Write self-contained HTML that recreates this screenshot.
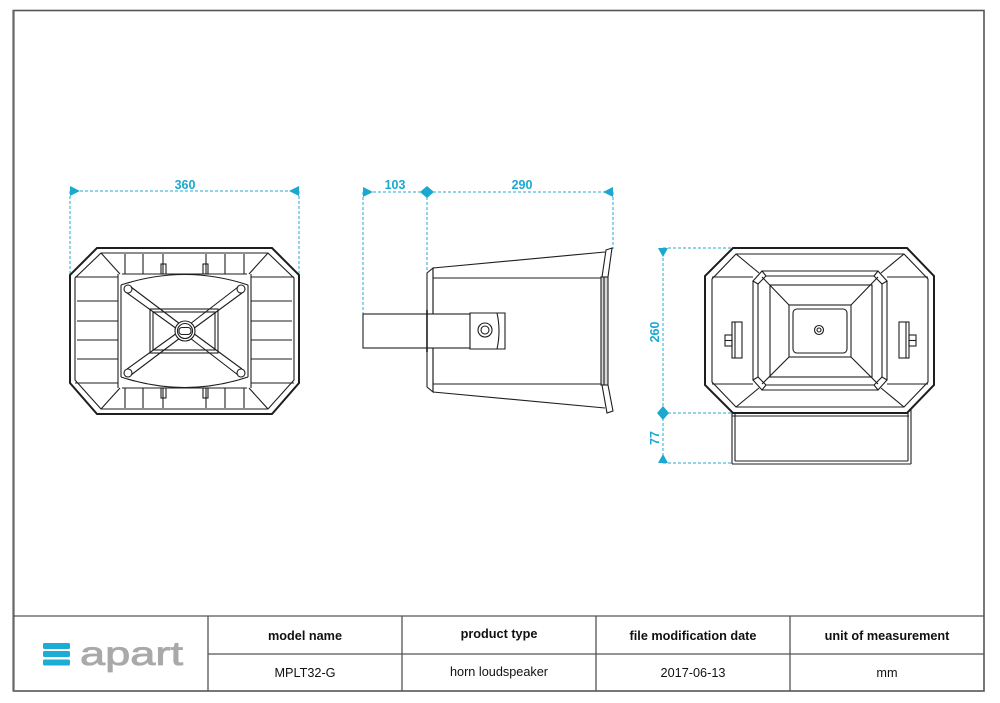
<!DOCTYPE html>
<html><head><meta charset="utf-8"><style>
html,body{margin:0;padding:0;background:#fff;}
body{width:1000px;height:703px;overflow:hidden;position:relative;font-family:"Liberation Sans",Arial,sans-serif;}
svg{position:absolute;left:0;top:0;}
</style></head><body>
<svg width="1000" height="703" viewBox="0 0 1000 703" xmlns="http://www.w3.org/2000/svg">
<!-- frame -->
<rect x="13.5" y="10.5" width="970.5" height="680.5" fill="none" stroke="#555" stroke-width="1.6"/>
<line x1="13.5" y1="10" x2="13.5" y2="691" stroke="#666" stroke-width="2.2"/>
<line x1="13" y1="616" x2="984" y2="616" stroke="#555" stroke-width="1.3"/>
<line x1="208" y1="654" x2="984" y2="654" stroke="#555" stroke-width="1.3"/>
<g stroke="#555" stroke-width="1.3">
<line x1="208" y1="616" x2="208" y2="691"/>
<line x1="402" y1="616" x2="402" y2="691"/>
<line x1="596" y1="616" x2="596" y2="691"/>
<line x1="790" y1="616" x2="790" y2="691"/>
</g>
<!-- table text -->
<g font-family="Liberation Sans, Arial, sans-serif" font-size="12.7" fill="#111" text-anchor="middle">
<text x="305" y="640" font-weight="bold">model name</text>
<text x="499" y="638" font-weight="bold">product type</text>
<text x="693" y="640" font-weight="bold">file modification date</text>
<text x="887" y="640" font-weight="bold">unit of measurement</text>
<text x="305" y="677">MPLT32-G</text>
<text x="499" y="676">horn loudspeaker</text>
<text x="693" y="677">2017-06-13</text>
<text x="887" y="677">mm</text>
</g>
<!-- logo -->
<g fill="#1badd6">
<rect x="43" y="643" width="27" height="6" rx="1.5"/>
<rect x="43" y="651" width="27" height="6" rx="1.5"/>
<rect x="43" y="659.5" width="27" height="6" rx="1.5"/>
</g>
<text x="80" y="665" font-family="Liberation Sans, Arial, sans-serif" font-size="33" fill="#a9a9a9" stroke="#a9a9a9" stroke-width="0.8" textLength="103" lengthAdjust="spacingAndGlyphs">apart</text>

<!-- ================= DIMENSIONS (cyan) ================= -->
<g stroke="#2aaad0" stroke-width="1" stroke-dasharray="3,2" fill="none">
<!-- front -->
<line x1="70" y1="191" x2="299" y2="191"/>
<line x1="70" y1="191" x2="70" y2="275"/>
<line x1="299" y1="191" x2="299" y2="275"/>
<!-- side -->
<line x1="363" y1="192" x2="613" y2="192"/>
<line x1="363" y1="192" x2="363" y2="314"/>
<line x1="427" y1="192" x2="427" y2="272"/>
<line x1="613" y1="192" x2="613" y2="249"/>
<!-- rear -->
<line x1="663" y1="248" x2="663" y2="463"/>
<line x1="663" y1="248" x2="733" y2="248"/>
<line x1="663" y1="413" x2="733" y2="413"/>
<line x1="663" y1="463" x2="731" y2="463"/>
</g>
<g fill="#1aa8d0">
<polygon points="70,186 70,196 80,191"/>
<polygon points="299,186 299,196 289,191"/>
<polygon points="363,187 363,197 373,192"/>
<polygon points="613,187 613,197 603,192"/>
<polygon points="420,192 427,186 434,192 427,198"/>
<polygon points="658,248 668,248 663,257"/>
<polygon points="663,406 669,413 663,420 657,413"/>
<polygon points="658,463 668,463 663,454"/>
</g>
<g font-family="Liberation Sans, Arial, sans-serif" font-size="12.5" font-weight="bold" fill="#1aa8d0" text-anchor="middle">
<text x="185" y="189">360</text>
<text x="395" y="189">103</text>
<text x="522" y="189">290</text>
<text transform="translate(659,332) rotate(-90)">260</text>
<text transform="translate(659,438) rotate(-90)">77</text>
</g>

<!-- ================= FRONT VIEW ================= -->
<g stroke="#1e1e1e" fill="none" stroke-width="1.1">
<polygon points="97,248 272,248 299,275 299,383 272,414 97,414 70,383 70,275" stroke-width="2"/>
<polygon points="101,253 268,253 294,278 294,380 268,409 101,409 75,380 75,278"/>
<!-- corner diagonals -->
<line x1="101" y1="253" x2="120" y2="274"/>
<line x1="268" y1="253" x2="249" y2="274"/>
<line x1="101" y1="409" x2="120" y2="388"/>
<line x1="268" y1="409" x2="249" y2="388"/>
<!-- panel boundaries -->
<line x1="75" y1="277" x2="118" y2="277"/>
<line x1="75" y1="383" x2="118" y2="383"/>
<line x1="251" y1="277" x2="294" y2="277"/>
<line x1="251" y1="383" x2="294" y2="383"/>
<line x1="118" y1="274" x2="118" y2="388"/>
<line x1="251" y1="274" x2="251" y2="388"/>
<line x1="122" y1="274" x2="247" y2="274"/>
<line x1="122" y1="388" x2="247" y2="388"/>
<!-- left/right ribs -->
<line x1="77" y1="301" x2="118" y2="301"/>
<line x1="77" y1="321" x2="118" y2="321"/>
<line x1="77" y1="340" x2="118" y2="340"/>
<line x1="77" y1="359" x2="118" y2="359"/>
<line x1="251" y1="301" x2="292" y2="301"/>
<line x1="251" y1="321" x2="292" y2="321"/>
<line x1="251" y1="340" x2="292" y2="340"/>
<line x1="251" y1="359" x2="292" y2="359"/>
<!-- top ribs -->
<line x1="125" y1="254" x2="125" y2="274"/>
<line x1="143" y1="254" x2="143" y2="274"/>
<line x1="163" y1="254" x2="163" y2="274"/>
<line x1="206" y1="254" x2="206" y2="274"/>
<line x1="225" y1="254" x2="225" y2="274"/>
<line x1="244" y1="254" x2="244" y2="274"/>
<rect x="161" y="264" width="5" height="10"/>
<rect x="203" y="264" width="5" height="10"/>
<!-- bottom ribs -->
<line x1="125" y1="388" x2="125" y2="408"/>
<line x1="143" y1="388" x2="143" y2="408"/>
<line x1="163" y1="388" x2="163" y2="408"/>
<line x1="206" y1="388" x2="206" y2="408"/>
<line x1="225" y1="388" x2="225" y2="408"/>
<line x1="244" y1="388" x2="244" y2="408"/>
<rect x="161" y="388" width="5" height="10"/>
<rect x="203" y="388" width="5" height="10"/>
<!-- curved inner -->
<path d="M121,285 Q185,264 248,285"/>
<path d="M121,377 Q185,398 248,377"/>
<line x1="121" y1="285" x2="121" y2="377"/>
<line x1="248" y1="285" x2="248" y2="377"/>
<!-- corner bosses -->
<circle cx="128" cy="289" r="4"/>
<circle cx="241" cy="289" r="4"/>
<circle cx="128" cy="373" r="4"/>
<circle cx="241" cy="373" r="4"/>
<!-- inner rect -->
<rect x="150" y="309" width="68" height="44"/>
<rect x="153" y="312" width="62" height="38"/>
<!-- X double lines -->
<line x1="131" y1="287" x2="180" y2="324"/>
<line x1="127" y1="293" x2="177" y2="329"/>
<line x1="238" y1="287" x2="190" y2="324"/>
<line x1="242" y1="293" x2="193" y2="329"/>
<line x1="131" y1="375" x2="180" y2="338"/>
<line x1="127" y1="369" x2="177" y2="333"/>
<line x1="238" y1="375" x2="190" y2="338"/>
<line x1="242" y1="369" x2="193" y2="333"/>
<circle cx="185" cy="331" r="10" fill="#fff"/>
<circle cx="185" cy="331" r="7.5"/>
<rect x="179" y="327.5" width="12" height="7" rx="3"/>
</g>

<!-- ================= SIDE VIEW ================= -->
<g stroke="#1e1e1e" fill="none" stroke-width="1.1">
<!-- body -->
<path d="M433,268 L605,252"/>
<path d="M433,392 L605,408"/>
<line x1="433" y1="278" x2="601" y2="278"/>
<line x1="433" y1="384" x2="601" y2="384"/>
<polygon points="427,273 433,268 433,392 427,387"/>
<line x1="433" y1="268" x2="433" y2="392"/>
<!-- flange strip -->
<rect x="601" y="277" width="7" height="108" fill="#d8d8d8"/>
<line x1="604" y1="277" x2="604" y2="385"/>
<polygon points="602,277 606,250 612,248 608,277"/>
<polygon points="602,385 608,385 613,411 607,413"/>
<!-- bracket -->
<rect x="363" y="314" width="107" height="34" fill="#fff"/>
<path d="M470,313 L505,313 L505,349 L470,349 Z" fill="#fff"/>
<path d="M497,313 Q501,331 497,349"/>
<circle cx="485" cy="330" r="7"/>
<circle cx="485" cy="330" r="4"/>
<line x1="427" y1="310" x2="427" y2="352" stroke-width="1.6"/>
</g>

<!-- ================= REAR VIEW ================= -->
<g stroke="#1e1e1e" fill="none" stroke-width="1.1">
<!-- U bracket -->
<line x1="732" y1="330" x2="732" y2="464"/>
<line x1="735" y1="358" x2="735" y2="461"/>
<line x1="732" y1="464" x2="911" y2="464"/>
<line x1="735" y1="461" x2="908" y2="461"/>
<line x1="911" y1="330" x2="911" y2="464"/>
<line x1="908" y1="358" x2="908" y2="461"/>
<!-- body -->
<polygon points="733,248 907,248 934,276 934,385 907,413 733,413 705,385 705,276" stroke-width="2" fill="#fff"/>
<line x1="732" y1="416" x2="909" y2="416"/>
<polygon points="736,254 904,254 928,279 928,382 904,407 736,407 712,382 712,279"/>
<!-- corner diagonals -->
<line x1="736" y1="254" x2="759" y2="273"/>
<line x1="904" y1="254" x2="881" y2="273"/>
<line x1="736" y1="407" x2="759" y2="388"/>
<line x1="904" y1="407" x2="881" y2="388"/>
<!-- middle frame -->
<line x1="762" y1="271" x2="878" y2="271"/>
<line x1="766" y1="276" x2="874" y2="276"/>
<line x1="762" y1="390" x2="878" y2="390"/>
<line x1="766" y1="385" x2="874" y2="385"/>
<line x1="753" y1="281" x2="753" y2="380"/>
<line x1="758" y1="284" x2="758" y2="377"/>
<line x1="887" y1="281" x2="887" y2="380"/>
<line x1="882" y1="284" x2="882" y2="377"/>
<line x1="712" y1="277" x2="753" y2="277"/>
<line x1="712" y1="384" x2="753" y2="384"/>
<line x1="887" y1="277" x2="928" y2="277"/>
<line x1="887" y1="384" x2="928" y2="384"/>
<!-- corner bevels -->
<polygon points="753,281 762,271 766,276 758,284"/>
<polygon points="887,281 878,271 874,276 882,284"/>
<polygon points="753,380 762,390 766,385 758,377"/>
<polygon points="887,380 878,390 874,385 882,377"/>
<!-- rect B -->
<rect x="770" y="285" width="102" height="92"/>
<!-- rect C -->
<rect x="789" y="305" width="62" height="52"/>
<rect x="793" y="309" width="54" height="44" rx="4"/>
<line x1="762" y1="277" x2="789" y2="305"/>
<line x1="878" y1="277" x2="851" y2="305"/>
<line x1="762" y1="384" x2="789" y2="357"/>
<line x1="878" y1="384" x2="851" y2="357"/>
<circle cx="819" cy="330" r="4.5"/>
<circle cx="819" cy="330" r="2"/>
<!-- plates -->
<rect x="732" y="322" width="10" height="36" fill="#fff"/>
<line x1="735" y1="322" x2="735" y2="358"/>
<rect x="725" y="335" width="7" height="11"/>
<line x1="725" y1="340.5" x2="732" y2="340.5"/>
<rect x="899" y="322" width="10" height="36" fill="#fff"/>
<line x1="906" y1="322" x2="906" y2="358"/>
<rect x="909" y="335" width="7" height="11"/>
<line x1="909" y1="340.5" x2="916" y2="340.5"/>
</g>
</svg>
</body></html>
